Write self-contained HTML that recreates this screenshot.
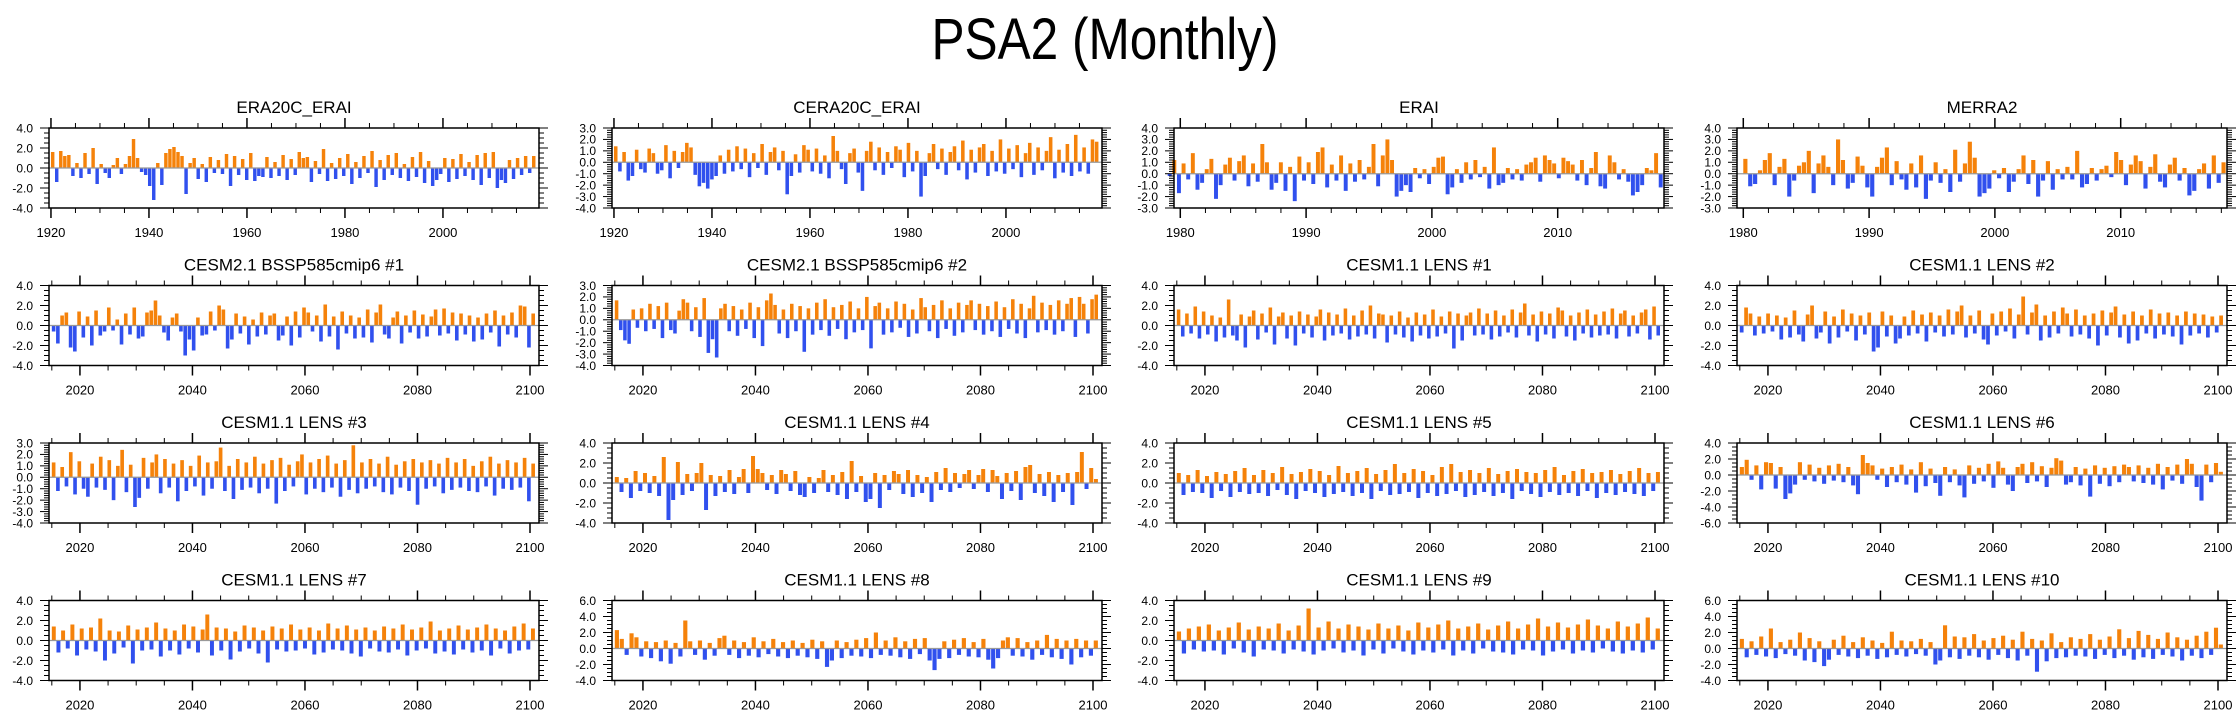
<!DOCTYPE html>
<html><head><meta charset="utf-8"><title>PSA2 (Monthly)</title>
<style>
html,body{margin:0;padding:0;background:#fff;}
svg{display:block;font-family:"Liberation Sans",Arial,sans-serif;}
</style></head>
<body>
<svg id="chart" width="2238" height="719" viewBox="0 0 2238 719" xmlns="http://www.w3.org/2000/svg">
<rect width="2238" height="719" fill="#fff"/>
<text x="1105" y="59" font-size="58" text-anchor="middle" textLength="347" lengthAdjust="spacingAndGlyphs">PSA2 (Monthly)</text>
</svg>
<script>
const titles=["ERA20C_ERAI","CERA20C_ERAI","ERAI","MERRA2","CESM2.1 BSSP585cmip6 #1","CESM2.1 BSSP585cmip6 #2","CESM1.1 LENS #1","CESM1.1 LENS #2","CESM1.1 LENS #3","CESM1.1 LENS #4","CESM1.1 LENS #5","CESM1.1 LENS #6","CESM1.1 LENS #7","CESM1.1 LENS #8","CESM1.1 LENS #9","CESM1.1 LENS #10"];
const yMins=[-4,-4,-3,-3,-4,-4,-4,-4,-4,-4,-4,-6,-4,-4,-4,-4];
const yMaxs=[4,3,4,4,4,3,4,4,3,4,4,4,4,6,4,6];
const ySteps=[2,1,1,1,2,1,2,2,1,2,2,2,2,2,2,2];
const dataStart=[1920,1920,1979,1980,2015,2015,2015,2015,2015,2015,2015,2015,2015,2015,2015,2015];
const dataEnd=[2019,2019,2018.4,2018.4,2101,2101,2101,2101,2101,2101,2101,2101,2101,2101,2101,2101];
const axisMin=[1919.6,1919.6,1979.5,1979.5,2014.5,2014.5,2014.5,2014.5,2014.5,2014.5,2014.5,2014.5,2014.5,2014.5,2014.5,2014.5];
const axisMax=[2019.6,2019.6,2018.45,2018.45,2101.6,2101.6,2101.6,2101.6,2101.6,2101.6,2101.6,2101.6,2101.6,2101.6,2101.6,2101.6];
const xMajor=[20,20,10,10,20,20,20,20,20,20,20,20,20,20,20,20];
const xMinor=[5,5,2,2,5,5,5,5,5,5,5,5,5,5,5,5];

const v1=[1.6,-1.4,1.7,1.2,1.3,-0.8,0.5,-1.0,1.5,-0.6,2.0,-1.6,0.4,-0.5,-1.0,0.3,1.0,-0.6,0.4,1.2,2.9,1.0,-0.4,-0.7,-1.8,-3.2,0.5,-1.7,1.5,1.9,2.1,1.6,1.2,-2.6,0.5,1.0,-1.1,0.4,-1.4,1.1,-0.5,0.8,-0.6,1.4,-1.8,1.2,-0.7,0.9,-1.2,1.5,-1.3,-0.8,-0.9,1.1,-1.0,0.6,-0.8,1.3,-1.2,0.9,-0.7,1.6,1.0,1.1,-1.4,0.7,-0.6,1.9,-1.3,0.5,-1.1,1.0,-0.8,1.4,-1.6,0.6,-1.0,1.2,-0.5,1.7,-1.9,0.8,-1.2,1.3,-0.7,1.5,-1.0,0.4,-1.3,1.1,-0.9,1.6,-1.5,0.7,-1.8,-1.2,-0.6,1.0,-1.4,0.9,-1.1,1.4,-0.8,0.6,-1.2,1.3,-1.7,1.5,-1.0,1.6,-2.0,-1.2,-1.5,0.8,-1.1,1.0,-0.7,1.2,-0.5,1.2];
const v2=[1.4,-0.8,0.9,-1.6,-1.2,1.1,-0.6,-0.9,1.2,0.8,-1.0,-0.7,1.5,-1.4,1.0,-0.5,0.9,1.7,1.3,-1.1,-2.1,-1.8,-2.3,-1.5,-1.2,0.6,-1.0,1.1,-0.8,1.4,-0.6,1.2,-1.3,0.8,-0.5,1.6,-1.1,0.9,1.3,-0.7,1.0,-2.8,-1.2,0.7,-0.9,1.5,1.1,-0.8,1.2,-1.0,0.6,-1.4,2.3,1.0,-0.6,-1.9,0.8,1.2,-0.9,-2.5,1.0,1.8,-0.7,1.3,-1.1,0.9,-0.5,1.4,1.1,-1.3,1.7,-0.8,1.0,-3.0,-1.2,0.8,1.6,-0.6,1.2,-1.1,0.9,1.4,-0.7,1.9,-1.5,1.1,-0.9,1.3,1.6,-1.2,1.0,-0.8,2.0,-1.0,1.2,-0.6,1.5,-1.3,0.8,1.7,-1.1,1.3,-0.7,1.0,2.2,-1.4,1.1,-0.9,1.6,-1.2,2.4,-0.8,1.3,-1.0,2.0,1.8];
const v3=[-0.2,1.2,-1.7,0.9,-0.5,1.8,-1.4,-0.8,0.4,1.3,-2.2,-1.0,0.8,1.4,-0.6,1.1,1.6,-1.1,0.9,-0.7,2.6,1.0,-1.4,-0.8,1.0,-1.5,0.6,-2.4,1.5,-0.6,1.0,-0.9,1.9,2.3,-1.2,0.8,-0.6,1.6,-1.5,0.9,-0.7,1.2,-0.5,0.6,2.6,-1.1,1.6,3.0,1.2,-2.0,-1.5,-1.0,-1.6,0.5,-0.4,0.4,-0.9,0.6,1.4,1.5,-1.8,-1.2,0.4,-0.8,1.0,-0.5,1.2,-0.3,0.6,-1.3,2.3,-1.0,-0.8,0.5,-0.5,0.4,-0.6,0.8,1.0,1.4,-0.7,1.6,1.2,0.9,-0.4,1.4,1.1,0.8,-0.6,1.2,-1.0,0.5,1.9,-1.1,-1.3,1.6,1.0,-0.5,0.4,-0.7,-1.9,-1.6,-1.0,0.5,0.3,1.8,-1.2];
const v4=[1.3,-1.1,-0.9,0.3,1.2,1.8,-1.0,0.6,1.3,-2.0,-0.6,0.7,1.0,2.0,-1.7,0.9,1.6,0.6,-1.0,3.0,1.2,-1.3,-0.8,1.5,0.7,-1.2,-2.0,0.6,1.4,2.3,-1.0,1.1,-0.5,-1.4,0.9,-1.2,1.6,-2.2,-0.6,1.0,-0.8,0.4,-1.6,2.1,-0.7,0.9,2.8,1.4,-2.0,-1.7,-1.3,0.3,-0.4,0.5,-1.6,-0.7,0.4,1.6,-0.9,1.2,-2.0,-0.6,1.1,-1.4,0.4,-0.5,0.6,-0.5,2.0,-1.2,-0.9,0.5,-0.6,0.4,0.7,-0.3,1.9,1.2,-1.0,0.8,1.6,1.1,-1.3,0.6,1.7,-0.7,-1.2,0.8,1.4,-0.6,0.5,-1.9,-1.5,0.4,0.9,-1.3,1.6,-0.8,1.0];
const v5=[-0.6,-1.8,1.0,1.3,-2.2,-2.6,1.4,-1.2,0.9,-2.0,1.5,-1.0,-0.6,1.8,-0.5,0.6,-1.9,1.2,-0.9,1.8,-1.3,-1.1,1.3,1.5,2.5,1.0,-0.7,-1.5,0.8,1.2,-0.6,-3.0,-1.4,-2.5,0.8,-1.0,-0.9,1.4,-0.5,2.0,1.6,-2.3,-1.4,1.2,-0.8,0.9,-1.9,0.6,-1.1,1.3,-0.9,1.0,1.2,-1.5,-1.0,0.9,-2.0,1.4,-1.2,1.8,1.3,-0.6,1.0,-1.6,2.1,-1.1,0.9,-2.4,1.4,-0.8,1.0,-1.3,0.8,-1.2,1.6,-1.7,1.3,2.1,-0.9,-1.3,0.8,1.4,-1.8,1.0,-0.7,1.5,-1.3,1.1,-1.1,0.9,1.6,-1.0,1.7,-0.8,1.3,-1.5,1.2,-0.9,1.0,-1.6,0.8,-1.4,1.2,-0.7,1.5,-2.1,1.0,-0.9,1.3,-1.2,2.0,1.9,-2.2,1.2];
const v6=[1.7,-0.9,-1.8,-2.1,0.9,-0.7,1.0,-1.0,1.4,-0.8,1.2,-1.6,1.5,-0.9,-1.2,0.8,1.8,1.5,-1.0,1.1,-1.5,1.9,-2.9,-1.7,-3.3,1.0,1.4,-1.0,1.2,-1.4,0.9,-0.8,1.5,-1.6,1.1,-2.3,1.7,2.3,1.3,-1.2,0.9,-1.6,1.4,-1.0,1.2,-2.8,1.0,-1.3,1.5,-0.9,1.8,-1.4,1.1,-0.8,1.3,-1.7,1.6,-1.1,1.0,-0.9,2.0,-2.5,1.2,1.5,-1.3,1.0,-1.1,1.6,-0.7,1.4,-1.5,0.9,-1.2,1.9,1.1,-1.0,1.3,-1.6,1.7,-0.8,1.0,-1.4,1.5,-1.1,1.3,1.7,-0.9,1.4,-1.3,1.2,-1.0,1.6,-1.5,1.1,-0.8,1.8,-1.2,1.4,-1.6,1.0,2.1,-1.1,1.5,-0.9,1.3,-1.3,1.7,-1.0,1.4,1.9,-1.5,2.0,1.4,-1.2,1.8,2.2];
const v7=[1.6,-1.1,1.2,-0.8,1.9,-1.3,1.4,-0.9,1.0,-1.6,0.8,-1.2,2.6,-1.0,-1.5,1.1,-2.2,0.9,1.5,-1.4,1.2,-0.7,1.8,-1.9,0.9,1.3,-1.3,1.0,-2.0,1.4,-0.8,1.1,-1.2,0.9,1.6,-1.5,1.3,-1.0,1.1,-0.8,1.7,-1.4,1.0,-1.1,1.5,-0.9,2.0,-1.3,1.2,1.1,-1.7,1.0,-0.9,1.4,-1.2,0.8,-1.6,1.3,-1.0,1.1,-1.3,1.6,-1.1,0.9,-0.8,1.4,-2.3,1.2,-1.5,1.0,1.3,-1.0,1.7,-0.9,1.2,-1.4,1.5,-1.1,1.0,-0.7,1.6,-1.2,1.3,2.2,-1.0,1.1,-1.6,1.4,-0.9,1.2,-1.3,1.8,1.5,-1.1,1.0,-1.5,1.3,-0.8,1.6,-1.2,1.1,-1.0,1.4,-0.9,1.7,-1.3,1.2,1.5,-1.1,1.0,-0.8,1.3,1.6,-1.4,1.9,-1.0];
const v8=[-0.7,1.8,1.2,-1.0,0.9,-0.8,1.2,-0.6,1.0,-1.4,0.8,-1.2,1.5,-0.9,-1.6,1.1,2.0,-1.3,-0.7,1.4,-1.8,0.9,-1.2,1.6,-0.6,1.2,-1.5,1.0,-0.9,1.3,-2.6,-2.2,1.4,-1.1,1.0,-1.8,-1.3,0.9,-1.0,1.5,-0.8,1.1,-1.6,1.3,-0.7,1.0,-1.1,1.6,-0.9,1.4,2.0,-1.2,1.0,-0.8,1.5,-1.4,-1.9,1.2,-1.0,1.4,-0.6,1.7,-1.3,1.1,2.9,-0.9,1.3,2.1,-1.5,1.0,-1.2,1.4,-0.8,1.8,1.2,-1.1,1.6,-0.9,1.0,-1.3,1.2,-2.0,1.5,-1.0,1.3,1.9,-1.2,1.1,-1.8,1.4,-1.5,1.0,-0.8,1.6,-1.3,1.2,-0.9,1.3,-1.1,1.0,-1.9,1.4,-1.0,1.2,-0.8,1.1,-1.2,0.9,-0.7,1.0];
const v9=[1.3,-1.2,0.9,-0.8,2.2,-1.5,1.4,-1.0,-1.7,1.2,-0.9,1.8,-1.1,1.5,-2.0,1.0,2.4,-1.3,1.1,-2.6,-1.8,1.7,-1.0,1.3,2.0,-1.4,1.6,-0.9,1.2,-2.1,1.5,-1.2,1.0,-0.8,1.9,-1.6,1.3,-1.0,1.4,2.6,-1.2,1.0,-1.9,1.6,-1.1,1.3,-0.9,1.8,-1.4,1.2,-1.0,1.5,-2.3,1.7,-1.2,1.1,-0.8,1.4,2.0,-1.5,1.3,-1.0,1.6,-1.3,1.9,-0.9,1.2,-1.7,1.5,-1.1,2.8,-1.4,1.3,-1.0,1.6,-0.8,1.2,-1.3,1.8,-1.5,1.1,-0.9,1.4,-1.2,1.6,-2.4,1.3,-1.0,1.5,-0.8,1.2,-1.4,1.7,-1.1,1.3,-0.9,1.6,-1.2,1.0,-1.3,1.4,-0.8,1.8,-1.6,1.2,-1.0,1.5,-1.1,1.3,-0.9,1.7,-2.1,1.2];
const v10=[0.6,-0.9,0.5,-1.5,1.2,-0.8,1.0,-1.0,0.7,-1.3,2.6,-3.7,-1.7,2.1,-1.2,0.9,-0.8,1.0,2.0,-2.7,0.8,-1.3,0.7,-0.9,1.3,-1.1,0.6,1.4,-1.0,2.7,1.4,1.0,-0.7,0.8,-1.1,1.3,0.9,-0.8,1.2,-1.2,-1.4,0.6,-1.0,0.5,1.3,-0.9,0.8,-1.2,1.1,-1.6,2.2,-0.9,0.7,-1.9,-1.6,1.0,-2.5,0.8,-0.7,1.2,0.9,-1.1,1.3,-1.4,0.8,-1.0,0.6,-1.9,1.1,-0.7,1.5,-0.9,1.0,-0.5,0.9,1.3,-0.6,0.8,1.4,-0.9,1.3,0.7,-1.6,1.0,-0.8,1.2,-1.7,1.6,1.8,-1.0,0.9,-1.3,1.1,-1.9,0.8,-0.9,1.0,-2.2,1.1,3.1,-0.6,1.5,0.4];
const v11=[1.0,-1.2,0.8,-0.9,1.3,-1.0,0.7,-1.5,1.1,-0.8,0.9,-1.4,1.2,-0.9,1.5,-1.1,0.8,-1.0,1.3,-1.3,1.0,-0.7,1.6,-1.2,0.9,-1.6,1.1,-0.8,1.4,-1.0,1.2,-1.4,0.8,-1.1,1.7,-0.9,1.0,-1.3,1.2,-1.0,1.5,-1.6,0.9,-0.8,1.3,-1.2,1.9,-1.1,1.0,-0.9,1.4,-1.5,1.2,-1.0,0.8,-1.3,1.6,-1.1,1.9,-0.8,1.1,-1.4,1.3,-1.2,1.0,-0.9,1.5,-1.3,0.9,-1.0,1.2,-1.6,1.4,-0.8,1.1,-1.1,1.0,-1.4,1.3,-0.9,1.6,-1.2,0.8,-1.0,1.2,-1.3,1.4,-0.8,1.0,-1.5,1.1,-1.0,1.3,-1.2,0.9,-0.9,1.2,-1.1,1.5,-1.3,1.0,-0.8,1.1];
const v12=[1.0,1.9,-0.6,1.2,-1.8,1.6,1.5,-1.7,1.0,-3.0,-2.3,-1.2,1.6,-0.6,1.3,-0.8,0.9,-1.1,1.2,-0.7,1.4,-0.9,1.0,-1.3,-2.4,2.5,1.5,1.2,-0.6,0.8,-1.5,1.0,-0.9,1.3,-1.2,0.7,-2.2,1.6,-1.4,0.8,-1.0,-2.6,1.0,-0.9,0.7,-1.3,-2.8,1.2,-1.1,0.9,-0.8,1.4,-1.6,1.7,0.9,-1.2,-2.0,1.0,1.4,-1.0,1.6,-0.8,1.1,-1.5,0.9,2.1,1.8,-1.2,-0.9,1.0,-1.3,0.8,-2.7,1.2,-1.1,0.9,-1.4,1.1,-0.9,1.3,1.0,-0.8,1.2,-1.0,0.9,-1.2,1.4,-1.8,1.0,-0.7,1.3,-1.1,2.0,1.4,-1.5,-3.2,1.3,-0.9,1.5,0.4];
const v13=[1.4,-1.2,1.0,-0.8,1.6,-1.5,1.2,-0.9,1.3,-1.1,2.2,-2.0,1.0,-1.3,0.9,-0.7,1.5,-2.3,1.1,-1.0,1.3,-0.9,1.8,-1.6,1.2,-1.0,1.0,-1.4,1.6,-0.8,1.4,-1.2,1.1,2.6,-1.5,1.3,-1.0,1.2,-1.9,0.9,-1.1,1.5,-0.8,1.3,-1.3,1.0,-2.2,1.4,-0.9,1.2,-1.1,1.6,-1.0,1.1,-0.8,1.3,-1.4,1.0,-1.2,1.7,-0.9,1.2,-1.0,1.5,-1.3,1.1,-1.6,1.3,-0.8,1.0,-1.1,1.4,-1.2,1.2,-0.9,1.6,-1.5,1.1,-1.0,1.3,-0.8,1.9,-1.3,1.0,-1.1,1.2,-1.4,1.5,-0.9,1.1,-1.2,1.3,-1.0,1.6,-1.5,1.2,-0.8,1.0,-1.3,1.4,-1.0,1.7,-0.9,1.2];
const v14=[2.3,1.2,-0.8,1.9,1.4,-1.0,0.9,-1.2,0.8,-1.6,1.0,-1.9,0.7,-1.0,3.5,0.9,-0.8,1.0,-1.4,0.7,-0.9,1.3,1.6,-0.8,1.0,-1.2,0.8,-0.9,1.4,-1.1,0.9,-0.7,1.2,-1.0,0.8,-1.2,1.0,-0.9,0.7,-1.1,1.1,-1.3,0.9,-2.3,-1.5,1.0,-1.2,0.8,-0.9,1.1,-1.0,1.3,-1.2,2.0,-0.8,1.0,-0.9,1.4,-1.1,0.9,-1.3,1.2,-0.7,1.3,-1.5,-2.7,-1.3,0.9,-1.2,1.1,-0.8,1.3,-1.0,0.8,-1.1,1.2,-1.4,-2.5,-1.2,1.0,1.4,-0.9,1.3,-1.0,0.8,-1.4,1.0,-0.8,1.7,-1.1,1.2,-1.3,1.0,-2.0,1.2,-1.1,1.0,-0.9,1.0];
const v15=[0.9,-1.3,1.2,-0.9,1.4,-1.1,1.6,-1.0,1.0,-1.4,1.3,-0.8,1.8,-1.2,1.1,-1.6,1.4,-0.9,1.2,-1.0,1.7,-1.3,1.0,-0.9,1.5,-1.1,3.2,-1.4,1.3,-1.0,1.9,-0.8,1.2,-1.2,1.6,-1.0,1.4,-1.5,1.1,-0.9,1.7,-1.3,1.2,-0.8,1.5,-1.1,1.0,-1.4,1.8,-1.0,1.3,-1.2,1.6,-0.9,2.0,-1.5,1.2,-1.0,1.4,-1.3,1.7,-0.8,1.1,-1.1,1.5,-1.2,1.9,-1.4,1.2,-0.9,1.6,-1.0,2.2,-1.5,1.4,-1.1,1.8,-0.9,1.3,-1.3,1.6,-1.0,2.1,-1.2,1.5,-0.8,1.2,-1.1,1.9,-1.3,1.4,-1.0,1.7,-1.2,2.3,-0.9,1.2];
const v16=[1.2,-1.1,0.9,-0.8,1.5,-1.0,2.5,-1.2,0.8,-0.7,1.1,-0.9,2.0,-1.5,1.3,-1.7,0.9,-2.2,-1.4,1.1,-0.8,1.6,-1.0,0.8,-1.2,1.4,-0.9,1.0,-1.3,0.7,-1.1,2.1,-0.8,1.0,-1.0,0.9,-0.7,1.2,-0.9,0.8,-2.0,-1.5,2.9,-1.1,1.5,-1.3,1.4,-0.9,1.8,-1.1,1.0,-1.4,1.3,-0.8,1.6,-1.2,1.1,-1.5,2.1,-0.9,1.2,-2.9,1.0,-1.6,1.9,-1.2,0.8,-1.1,1.4,-0.9,1.2,-1.0,1.8,-1.3,1.1,-0.8,1.5,-1.2,2.4,-0.9,1.3,-1.4,2.2,-1.1,1.7,-1.3,1.2,-0.8,2.0,-1.0,1.4,-1.5,1.1,-0.9,1.6,-1.2,2.1,-0.8,2.6,0.5];
const allVals=[v1,v2,v3,v4,v5,v6,v7,v8,v9,v10,v11,v12,v13,v14,v15,v16];

const NS="http://www.w3.org/2000/svg";
const svg=document.getElementById('chart');
const colLeft=[49,612,1174,1737], rowTop=[128,285.5,443,600.5], PW=490, PH=80;
function mk(tag,attrs,parent){const e=document.createElementNS(NS,tag);for(const k in attrs)e.setAttribute(k,attrs[k]);(parent||svg).appendChild(e);return e;}
function near(a,b){return Math.abs(a-b)<1e-6;}

for(let i=0;i<16;i++){
  const L=colLeft[i%4], T=rowTop[Math.floor(i/4)];
  const g=mk('g',{});
  
  
  const xs=v=>L+(v-axisMin[i])/(axisMax[i]-axisMin[i])*PW;
  const ys=v=>T+(yMaxs[i]-v)/(yMaxs[i]-yMins[i])*PH;
  const t=mk('text',{x:L+PW/2,y:T-15,'font-size':17,'text-anchor':'middle'},g);
  t.textContent=titles[i];
  
  
  const vals=allVals[i], n=vals.length, step=(dataEnd[i]-dataStart[i])/n;
  const bw=Math.max(1,(xs(dataStart[i]+step)-xs(dataStart[i]))*0.85);
  const bg=mk('g',{},g);
  
  
  for(let k=0;k<n;k++){
    const v=vals[k], x=xs(dataStart[i]+k*step);
    const y0=ys(Math.max(v,0)), y1=ys(Math.min(v,0));
    const r=mk('rect',{x:x.toFixed(2),y:y0.toFixed(2),width:bw.toFixed(2),height:Math.max(0.5,y1-y0).toFixed(2),fill:v>=0?'#f5820a':'#3050ee'},bg);
    
    
  }
  const z=mk('line',{x1:L,x2:L+PW,y1:ys(0),y2:ys(0),stroke:'#999',"stroke-width":1.2},g);
  
  
  const fr=mk('rect',{x:L,y:T,width:PW,height:PH,fill:'none',stroke:'#000','stroke-width':1.5},g);
  
  
  const minorStep=ySteps[i]===1?0.2:0.5;
  const yt=mk('g',{stroke:'#000','stroke-width':1},g);
  
  
  for(let v=yMins[i];v<=yMaxs[i]+1e-6;v+=minorStep){
    const vv=Math.round(v*10)/10;
    const major=near(vv/ySteps[i],Math.round(vv/ySteps[i]));
    const len=major?9:5, y=ys(vv);
    mk('line',{x1:L-len,x2:L,y1:y,y2:y},yt);
    mk('line',{x1:L+PW,x2:L+PW+len,y1:y,y2:y},yt);
    if(major){
      const lb=mk('text',{x:L-16,y:y+4.3,'font-size':12,'text-anchor':'end',stroke:'none',fill:'#000'},g);
      lb.textContent=vv.toFixed(1);
      
      
    }
  }
  const xt=mk('g',{stroke:'#000','stroke-width':1},g);
  
  
  const first=Math.ceil(axisMin[i]/xMinor[i])*xMinor[i];
  for(let yr=first;yr<=axisMax[i];yr+=xMinor[i]){
    const major=yr%xMajor[i]===0, len=major?10:5, x=xs(yr);
    mk('line',{x1:x,x2:x,y1:T-len,y2:T,'stroke-width':major?1.5:1},xt);
    mk('line',{x1:x,x2:x,y1:T+PH,y2:T+PH+len,'stroke-width':major?1.5:1},xt);
    if(major){
      const lb=mk('text',{x:x,y:T+PH+29,'font-size':13,'text-anchor':'middle',stroke:'none',fill:'#000'},g);
      lb.textContent=String(yr);
      
      
    }
  }
}
</script>
</body></html>
